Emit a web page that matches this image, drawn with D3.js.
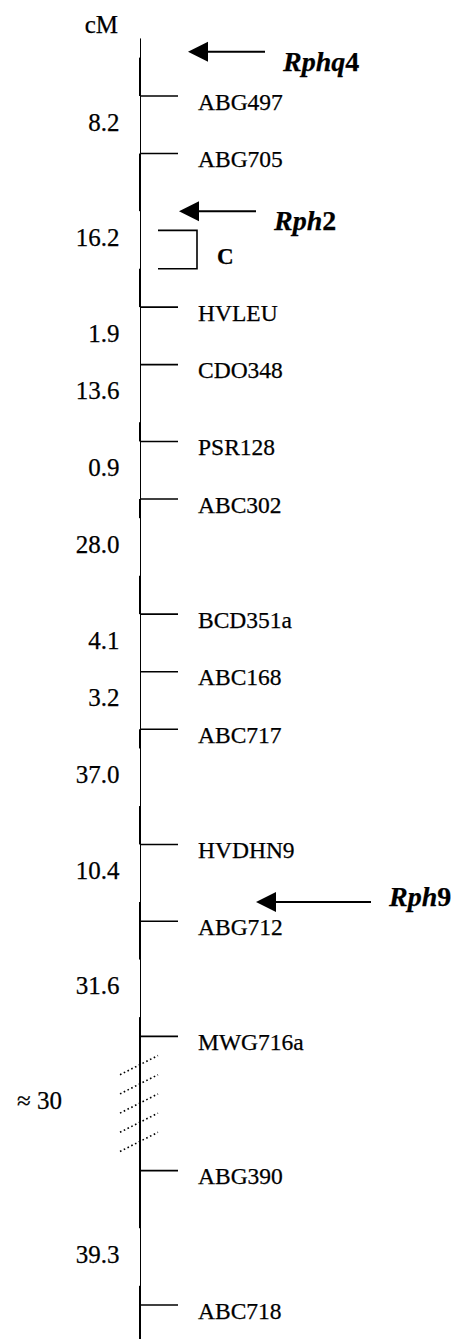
<!DOCTYPE html>
<html>
<head>
<meta charset="utf-8">
<script src="https://cdn.jsdelivr.net/npm/d3@7"></script>
<style>
  html, body { margin: 0; padding: 0; background: #fff; }
  svg { display: block; }
  text { font-family: "Liberation Serif", "Times New Roman", serif; fill: #000; stroke: #000; stroke-width: 0.25px; }
</style>
</head>
<body>
<div id="chart"></div>
<script>
// ---- Data ----
// Markers along the linkage group, with their drawn row on the map
const markers = ["ABG497", "ABG705", "HVLEU", "CDO348", "PSR128", "ABC302", "BCD351a",
                 "ABC168", "ABC717", "HVDHN9", "ABG712", "MWG716a", "ABG390", "ABC718"];
const markerRow = [0, 3, 11, 14, 18, 21, 27, 30, 33, 39, 43, 49, 56, 63];

// Interval distances (cM) between consecutive markers and the row of their label
const distances = ["8.2", "16.2", "1.9", "13.6", "0.9", "28.0", "4.1", "3.2", "37.0", "10.4", "31.6", "≈ 30", "39.3"];
const distanceRow = [1, 7, 12, 15, 19, 23, 28, 31, 35, 40, 46, 52, 60];

// Resistance genes pointed at by arrows
const genes = ["Rphq", "Rph", "Rph"];
const geneNumber = ["4", "2", "9"];
const geneRow = [-2.3, 6, 42];

// Centromere bracket rows
const centromere = { label: "C", from: 7, to: 9 };

// Rows of the dotted break marks (gap of ≈30 cM)
const breakRows = [51, 52, 53, 54, 55];

// Rows where the chromosome line is drawn doubled
const heavySegments = [[-2, 0], [3, 6], [9, 11], [17, 18], [21, 22], [25, 27], [33, 34],
                       [37, 39], [42, 45], [48, 59], [62, 65]];

const unitLabel = "cM";

// ---- Layout ----
const W = 456, H = 1339;
const y = d3.scaleLinear().domain([0, 63]).range([96, 1305]);
const axisX = 140.5;
const tickEnd = 178;
const arrowLayout = [{ tip: 188, end: 265 }, { tip: 179, end: 256 }, { tip: 256, end: 371 }];

const svg = d3.select("#chart").append("svg")
  .attr("width", W).attr("height", H);

// unit label
svg.append("text")
  .attr("x", 118).attr("y", 33)
  .attr("text-anchor", "end")
  .style("font-size", "25px")
  .text(unitLabel);

// main chromosome line
svg.append("line")
  .attr("x1", axisX).attr("x2", axisX)
  .attr("y1", y(-3)).attr("y2", y(65))
  .attr("stroke", "#000").attr("stroke-width", 1);

svg.selectAll("line.heavy").data(heavySegments).join("line")
  .attr("class", "heavy")
  .attr("x1", axisX - 1).attr("x2", axisX - 1)
  .attr("y1", d => y(d[0])).attr("y2", d => y(d[1]))
  .attr("stroke", "#000").attr("stroke-width", 1);

// marker ticks
svg.selectAll("line.tick").data(markers).join("line")
  .attr("class", "tick")
  .attr("x1", axisX).attr("x2", tickEnd)
  .attr("y1", (d, i) => y(markerRow[i])).attr("y2", (d, i) => y(markerRow[i]))
  .attr("stroke", "#000").attr("stroke-width", 1.6);

// marker labels
svg.selectAll("text.marker").data(markers).join("text")
  .attr("class", "marker")
  .attr("x", 198)
  .attr("y", (d, i) => y(markerRow[i]) + 13.5)
  .style("font-size", "23.5px")
  .text(d => d);

// distance labels
svg.selectAll("text.dist").data(distances).join("text")
  .attr("class", "dist")
  .attr("x", (d) => d.startsWith("≈") ? 62 : 119.5)
  .attr("y", (d, i) => y(distanceRow[i]) + 15.5)
  .attr("text-anchor", "end")
  .style("font-size", "25px")
  .text(d => d);

// centromere bracket
const cTop = y(centromere.from), cBot = y(centromere.to);
svg.append("path")
  .attr("d", `M158,${cTop} H197 V${cBot} H158`)
  .attr("fill", "none").attr("stroke", "#000").attr("stroke-width", 1.6);
svg.append("text")
  .attr("x", 217).attr("y", cBot - 4.5)
  .style("font-size", "23px").style("font-weight", "bold")
  .text(centromere.label);

// dotted break marks
svg.selectAll("line.brk").data(breakRows).join("line")
  .attr("class", "brk")
  .attr("x1", 120).attr("y1", d => y(d))
  .attr("x2", 158).attr("y2", d => y(d - 1))
  .attr("stroke", "#000").attr("stroke-width", 1.6)
  .attr("stroke-dasharray", "1.6,2.6");

// gene arrows and labels
genes.forEach((g, i) => {
  const a = arrowLayout[i];
  const yy = y(geneRow[i]);
  svg.append("line")
    .attr("x1", a.tip + 18).attr("x2", a.end)
    .attr("y1", yy).attr("y2", yy)
    .attr("stroke", "#000").attr("stroke-width", 2);
  svg.append("path")
    .attr("d", `M${a.tip},${yy} L${a.tip + 20},${yy - 10} L${a.tip + 20},${yy + 10} Z`)
    .attr("fill", "#000");
  const base = i === 2 ? yy + 4 : yy + 19;
  const t = svg.append("text")
    .attr("x", a.end + 18).attr("y", base)
    .style("font-size", "28px").style("font-weight", "bold");
  t.append("tspan").style("font-style", "italic").text(g);
  t.append("tspan").text(geneNumber[i]);
});
</script>
</body>
</html>
